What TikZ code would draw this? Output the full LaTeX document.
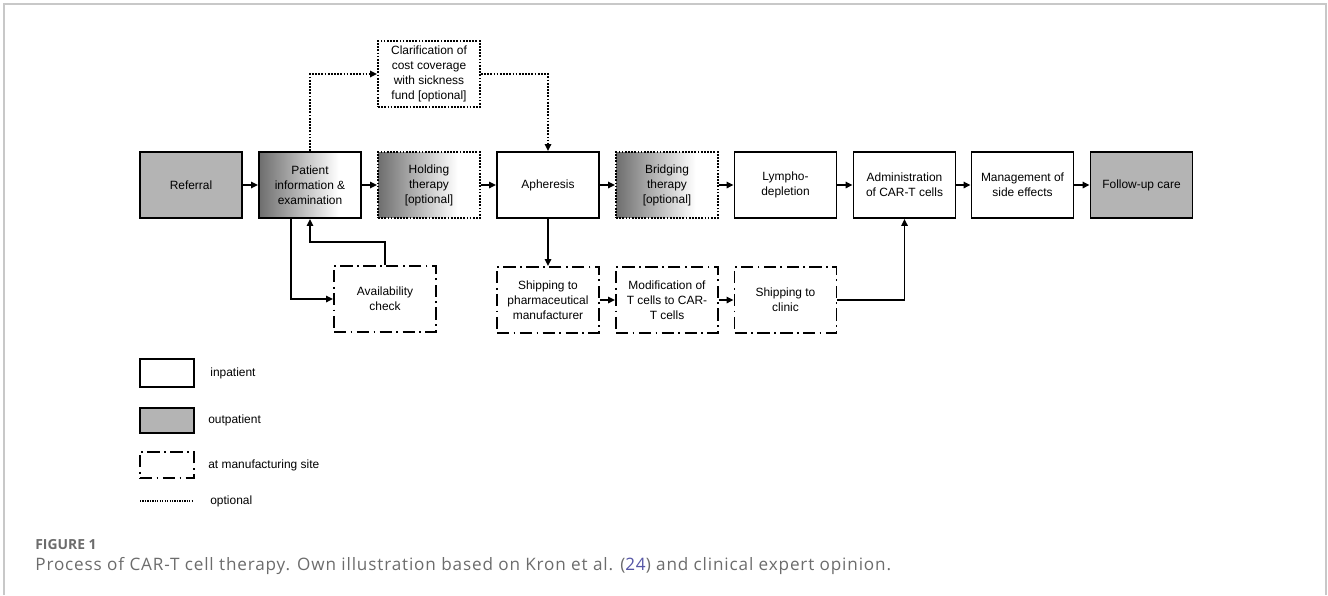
\documentclass[tikz,border=0pt]{standalone}
\usepackage{fontspec}
\setmainfont{Liberation Sans}
\newfontfamily\capfont[LetterSpace=5]{Open Sans}
\newfontfamily\figfont{Open Sans}
\usetikzlibrary{arrows.meta}

\definecolor{outgray}{RGB}{180,180,180}
\definecolor{framegray}{RGB}{200,200,200}
\definecolor{capgray}{RGB}{108,108,108}
\definecolor{reflink}{RGB}{84,84,165}
\pgfdeclarehorizontalshading{fadeleft}{100bp}{color(0bp)=(black!57); color(25bp)=(black!57); color(64bp)=(white); color(100bp)=(white)}

\begin{document}
\begin{tikzpicture}[x=0.02cm, y=-0.02cm,
    box/.style={draw, line width=1pt, minimum width=2.04cm, minimum height=1.32cm,
        inner sep=1pt, align=center, font=\fontsize{6.8}{8.5}\selectfont},
    inbox/.style={box, fill=white},
    outbox/.style={box, fill=outgray},
    fadebox/.style={box, shade, shading=fadeleft},
    opt/.style={dash pattern=on 1pt off 0.8pt},
    site/.style={dash pattern=on 7pt off 2.5pt on 1pt off 2.5pt},
    flow/.style={line width=1pt, -{Triangle[length=4pt,width=3.6pt]}},
    lbl/.style={anchor=west, inner sep=0pt, font=\fontsize{6.8}{8.5}\selectfont}]
    \useasboundingbox (0,0) rectangle (1328,595);

    % Frame
    \draw[framegray, line width=0.6pt] (4,595) -- (4,4) -- (1326,4) -- (1326,595);

    % Main row
    \node[outbox] (ref) at (191,185) {Referral};
    \node[fadebox] (pat) at (310,185) {Patient\\information \&\\examination};
    \node[fadebox, opt] (hold) at (429,185) {Holding\\therapy\\{[optional]}};
    \node[inbox] (aph) at (548,185) {Apheresis};
    \node[fadebox, opt] (bri) at (667,185) {Bridging\\therapy\\{[optional]}};
    \node[inbox] (lym) at (785.5,185) {Lympho-\\depletion};
    \node[inbox] (adm) at (904.5,185) {Administration\\of CAR-T cells};
    \node[inbox] (man) at (1022.5,185) {Management of\\side effects};
    \node[outbox] (fol) at (1141.5,185) {Follow-up care};

    % Optional step above
    \node[inbox, opt] (clar) at (429,74) {Clarification of\\cost coverage\\with sickness\\fund {[optional]}};

    % Manufacturing site
    \node[inbox, site] (avail) at (385,299) {Availability\\check};
    \node[inbox, site] (ship1) at (548,300) {Shipping to\\pharmaceutical\\manufacturer};
    \node[inbox, site] (mod) at (667,300) {Modification of\\T cells to CAR-\\T cells};
    \node[inbox, site] (ship2) at (785.5,300) {Shipping to\\clinic};

    % Arrows
    \draw[flow] (ref) -- (pat);
    \draw[flow] (pat) -- (hold);
    \draw[flow] (hold) -- (aph);
    \draw[flow] (aph) -- (bri);
    \draw[flow] (bri) -- (lym);
    \draw[flow] (lym) -- (adm);
    \draw[flow] (adm) -- (man);
    \draw[flow] (man) -- (fol);
    \draw[flow, opt] (pat.north) |- (clar.west);
    \draw[flow, opt] (clar.east) -| (aph.north);
    \draw[flow] ([xshift=-0.38cm]pat.south) |- (avail.west);
    \draw[flow] (avail.north) -- ++(0,-23) -| (pat.south);
    \draw[flow] (aph.south) -- (ship1.north);
    \draw[flow] (ship1) -- (mod);
    \draw[flow] (mod) -- (ship2);
    \draw[flow] (ship2.east) -| (adm.south);

    % Legend
    \node[inbox, minimum width=1.08cm, minimum height=0.56cm] (legin) at (167,373) {};
    \node[lbl] (legint) at (210,373) {inpatient};
    \node[outbox, minimum width=1.08cm, minimum height=0.5cm] (legout) at (167,420.5) {};
    \node[lbl] (legoutt) at (208,420.5) {outpatient};
    \node[inbox, site, minimum width=1.08cm, minimum height=0.52cm] (legsite) at (167,465) {};
    \node[lbl] (legsitet) at (208,465) {at manufacturing site};
    \coordinate (legopta) at (140,501);
    \coordinate (legoptb) at (192,501);
    \draw[line width=0.7pt, dash pattern=on 0.7pt off 0.7pt] (legopta) -- (legoptb);
    \node[lbl] (legoptt) at (210,501) {optional};

    % Caption
    \node[anchor=west, inner sep=0pt, text=capgray, font=\figfont\bfseries\fontsize{7.9}{9}\selectfont] (fig) at (35,545) {FIGURE 1};
    \node[anchor=west, inner sep=0pt, text=capgray, font=\capfont\fontsize{9.75}{12}\selectfont] (cap) at (35,566)
        {Process of CAR-T cell therapy. Own illustration based on Kron et al. ({\color{reflink}24}) and clinical expert opinion.};
\end{tikzpicture}
\end{document}
